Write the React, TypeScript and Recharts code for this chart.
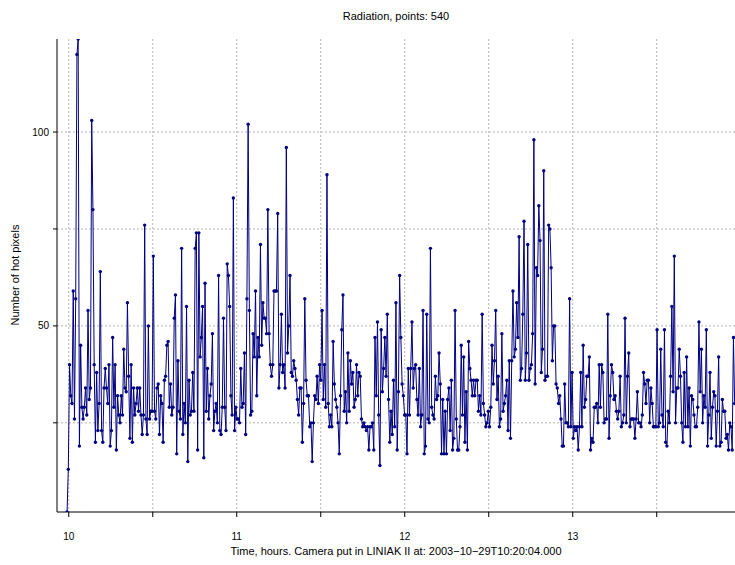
import { CartesianGrid, Line, LineChart, XAxis, YAxis } from "recharts";

// hot pixel counts, read left to right in strips of ~56px
const seg01 = [2, 13, 40, 32, 30, 59, 26, 57, 120, 124, 19, 45, 29, 26, 29, 34, 27, 54, 31, 34, 103, 80, 40, 20, 38, 23, 30, 64, 23, 20, 34, 39, 34, 30, 40, 19, 23, 47, 29, 40, 18, 32, 27];
const seg02 = [25, 32, 27, 44, 34, 33, 56, 37, 21, 40, 20, 34, 27, 30, 34, 28, 34, 27, 22, 27, 76, 26, 22, 50, 26, 28, 28, 68, 28, 26, 34, 35, 22, 32, 30, 20, 36, 37, 45, 46, 29, 35, 27, 29, 52, 58];
const seg03 = [17, 41, 28, 26, 70, 22, 30, 25, 55, 15, 36, 27, 28, 38, 28, 70, 74, 18, 74, 42, 47, 55, 16, 61, 28, 39, 26, 32, 35, 48, 23, 28, 30, 25, 63, 23, 22, 29, 52, 29, 23, 66, 63, 55, 32, 27, 83];
const seg04 = [23, 29, 26, 26, 25, 39, 29, 30, 43, 22, 57, 102, 54, 27, 28, 48, 42, 59, 32, 47, 42, 71, 45, 56, 52, 52, 48, 80, 48, 40, 37, 40, 59, 59, 59, 79, 34, 40, 53, 38, 40, 34, 96, 43];
const seg05 = [50, 63, 38, 37, 41, 39, 36, 31, 27, 34, 34, 20, 30, 57, 36, 32, 32, 24, 25, 15, 25, 32, 31, 37, 30, 40, 36, 54, 31, 40, 29, 89, 30, 24, 27, 24, 46, 35, 31, 29, 25, 17, 32, 49, 58, 28];
const seg06 = [33, 25, 43, 28, 41, 35, 38, 29, 31, 40, 32, 38, 37, 26, 24, 25, 24, 23, 24, 18, 24, 24, 25, 18, 47, 32, 51, 27, 14, 49, 33, 39, 47, 37, 53, 31, 20, 28, 22, 36, 24, 56, 18, 33, 63];
const seg07 = [47, 35, 32, 27, 27, 17, 39, 27, 39, 51, 34, 39, 40, 31, 27, 39, 24, 27, 54, 17, 19, 53, 26, 25, 70, 29, 27, 26, 37, 31, 32, 43, 35, 17, 31, 17, 28, 17, 31, 34, 23, 36, 18, 21, 54, 26, 18];
const seg08 = [18, 24, 45, 27, 42, 20, 33, 18, 46, 39, 36, 32, 36, 32, 36, 36, 28, 32, 27, 53, 30, 27, 24, 25, 28, 24, 29, 45, 35, 41, 54, 31, 37, 24, 26, 48, 28, 30, 32, 36, 23, 41, 21, 41, 59, 42, 44];
const seg09 = [56, 47, 73, 36, 39, 53, 77, 36, 43, 71, 36, 39, 40, 48, 98, 35, 65, 63, 81, 72, 38, 44, 90, 36, 37, 37, 76, 75, 65, 41, 50, 50, 35, 34, 30, 32, 26, 19, 19, 35, 25, 25, 24, 57];
const seg10 = [24, 38, 21, 24, 23, 24, 18, 24, 38, 24, 45, 29, 31, 37, 37, 42, 18, 21, 20, 29, 29, 30, 25, 40, 29, 40, 38, 25, 26, 26, 53, 21, 32, 40, 38, 31, 32, 28, 26, 28, 37, 24, 25, 27, 52, 25, 37];
const seg11 = [43, 24, 26, 26, 26, 21, 26, 33, 25, 25, 24, 27, 38, 35, 30, 36, 36, 25, 34, 30, 24, 24, 24, 49, 24, 25, 44, 27, 24, 49, 20, 19, 28, 25, 37, 55, 33, 68, 25, 34, 34, 44, 37, 25];
const seg12 = [20, 38, 24, 42, 24, 34, 19, 32, 31, 27, 24, 24, 29, 51, 33, 44, 25, 32, 29, 49, 19, 27, 38, 21, 29, 33, 32, 19, 28, 42, 19, 20, 31, 28, 28, 21, 22, 18, 25, 24, 18, 47, 30];

const HOT_PIXELS = [
  ...seg01, ...seg02, ...seg03, ...seg04, ...seg05, ...seg06,
  ...seg07, ...seg08, ...seg09, ...seg10, ...seg11, ...seg12,
];

// samples are evenly spaced in time
const START_HOUR = 9.99;
const LAST_HOUR = 13.964;
const X_DOMAIN = [9.93, 13.966];
const Y_DOMAIN = [2, 124];
const X_TICKS = [10, 10.5, 11, 11.5, 12, 12.5, 13, 13.5];
const Y_TICKS = [25, 50, 75, 100];

const LINE_COLOR = "#000080";
const GRID_COLOR = "#b4b4b4";
const FONT = "'Liberation Sans', Arial, sans-serif";

const step = (LAST_HOUR - START_HOUR) / (HOT_PIXELS.length - 1);
const data = HOT_PIXELS.map((value, index) => ({
  hour: START_HOUR + index * step,
  value,
}));

export default function App() {
  return (
    <div
      style={{
        position: "absolute",
        left: 0,
        top: 0,
        width: 735,
        height: 565,
        background: "#fff",
        fontFamily: FONT,
        overflow: "hidden",
      }}
    >
      <div
        style={{
          position: "absolute",
          left: 57,
          width: 678,
          top: 10,
          textAlign: "center",
          fontSize: 11,
        }}
      >
        Radiation, points: 540
      </div>
      <div
        style={{
          position: "absolute",
          left: 57,
          width: 678,
          top: 545,
          textAlign: "center",
          fontSize: 11,
        }}
      >
        Time, hours. Camera put in LINIAK II at: 2003−10−29T10:20:04.000
      </div>
      <div
        style={{
          position: "absolute",
          left: 15,
          top: 275,
          fontSize: 11,
          whiteSpace: "nowrap",
          transform: "translate(-50%, -50%) rotate(-90deg)",
        }}
      >
        Number of hot pixels
      </div>
      <LineChart
        width={735}
        height={565}
        data={data}
        margin={{ top: 39, right: 0, bottom: 0, left: 0 }}
        style={{ position: "absolute", left: 0, top: 0 }}
      >
        <CartesianGrid
          stroke={GRID_COLOR}
          strokeDasharray="2 2"
          horizontalValues={Y_TICKS}
          verticalValues={X_TICKS}
        />
        <XAxis
          dataKey="hour"
          type="number"
          domain={X_DOMAIN}
          ticks={X_TICKS}
          allowDataOverflow
          height={53}
          stroke="#000"
          tickSize={5}
          tickMargin={16}
          tick={{ fill: "#000", fontSize: 10, fontFamily: FONT }}
          tickFormatter={(v: number) => (Number.isInteger(v) ? String(v) : "")}
        />
        <YAxis
          type="number"
          domain={Y_DOMAIN}
          ticks={Y_TICKS}
          allowDataOverflow
          width={57}
          stroke="#000"
          tickSize={4}
          tickMargin={4}
          tick={{ fill: "#000", fontSize: 10, fontFamily: FONT }}
          tickFormatter={(v: number) => (v % 50 === 0 ? String(v) : "")}
        />
        <Line
          dataKey="value"
          type="linear"
          stroke={LINE_COLOR}
          strokeWidth={1}
          dot={{ r: 1.7, fill: LINE_COLOR, stroke: "none" }}
          isAnimationActive={false}
        />
      </LineChart>
    </div>
  );
}
